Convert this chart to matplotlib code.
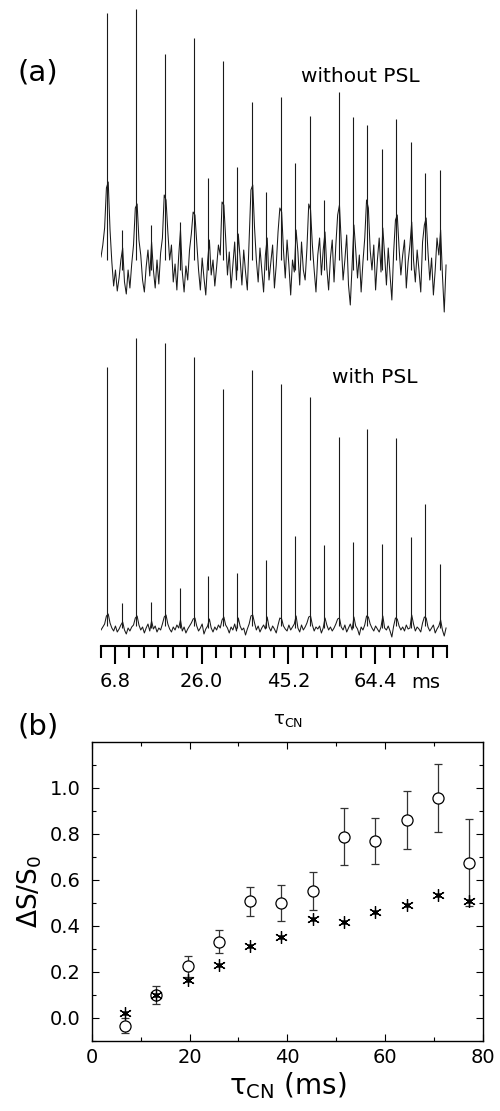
import numpy as np
import matplotlib
matplotlib.use("Agg")
import matplotlib.pyplot as plt
from matplotlib.ticker import FixedLocator

plt.rcParams['font.family'] = ['DejaVu Sans']

# ---------------- panel (a) data ----------------
# tick axis of the spectra (ms)
scale_major = [6.8, 26.0, 45.2, 64.4]
scale_labels = ["6.8", "26.0", "45.2", "64.4"]
scale_minor = [3.6, 10.0, 13.2, 16.4, 19.6, 22.8, 29.2, 32.4, 35.6, 38.8, 42.0,
               48.4, 51.6, 54.8, 58.0, 61.2, 67.6, 70.8, 74.0, 77.2, 80.4]

# echo peak positions (ms) in the trace
main_peaks = [5.1, 11.5, 17.9, 24.3, 30.7, 37.1, 43.5, 49.9, 56.3, 62.7, 69.1, 75.5]
mid_peaks = [8.3, 14.7, 21.1, 27.5, 33.9, 40.3, 46.7, 53.1, 59.5, 65.9, 72.3, 78.7]

# heights (arbitrary units) - without PSL
top_main = [287, 291, 246, 262, 239, 198, 203, 184, 208, 175, 181, 127]
top_mid = [70, 75, 78, 122, 133, 108, 137, 100, 183, 151, 158, 130]
# heights - with PSL
bot_main = [273, 302, 297, 283, 251, 270, 256, 243, 203, 211, 202, 136]
bot_mid = [37, 38, 52, 64, 67, 80, 104, 95, 98, 96, 103, 76]

# baseline / noise of traces, sampled every 0.4 ms from 3.7 ms
top_noise = [
    43, 55, 72, 112,
    118, 70, 38, 14, 30, 9, 22, 40, 52, 18, 6, 30, 12, 36, 55, 92,
    96, 60, 45, 20, 8, 33, 50, 24, 58, 30, 12, 40, 16, 47, 62, 105,
    100, 68, 40, 55, 18, 36, 10, 44, 70, 28, 8, 34, 20, 50, 66, 88,
    85, 58, 30, 10, 42, 22, 5, 38, 60, 25, 40, 14, 33, 55, 45, 98,
    95, 62, 25, 48, 12, 35, 58, 20, 66, 42, 15, 50, 28, 10, 60, 110,
    115, 72, 40, 18, 52, 30, 8, 45, 62, 20, 38, 55, 12, 35, 68, 92,
    88, 50, 22, 60, 35, 5, 40, 28, 70, 48, 15, 58, 30, 20, 52, 96,
    90, 55, 30, 8, 45, 62, 25, 50, 68, 32, 10, 42, 60, 18, 55, 85,
    95, 58, 20, 40, 65, 15, -5, 35, 75, 50, 22, 45, 8, 38, 62, 100,
    92, 50, 30, 55, 10, 40, 62, 28, 72, 45, 15, 52, 25, 0, 48, 80,
    85, 52, 25, 45, 60, 12, 38, 55, 78, 40, 18, 50, 30, 8, 58, 75,
    82, 48, 20, 42, 5, 30, 62, 45, 70, 25, -12, 35,
]
bot_noise = [
    10, 13, 16, 24,
    26, 17, 12, 9, 14, 8, 11, 15, 18, 10, 6, 12, 9, 13, 15, 22,
    24, 15, 10, 13, 7, 12, 16, 9, 19, 11, 14, 8, 12, 10, 16, 23,
    25, 16, 11, 8, 13, 10, 15, 12, 20, 9, 13, 7, 11, 14, 17, 21,
    22, 14, 9, 12, 16, 6, 11, 14, 21, 12, 8, 13, 10, 15, 12, 20,
    23, 15, 12, 7, 13, 10, 16, 9, 22, 14, 10, 12, 5, 11, 16, 24,
    25, 17, 10, 14, 8, 12, 15, 11, 23, 13, 9, 14, 11, 7, 15, 22,
    21, 14, 11, 9, 15, 10, 13, 16, 24, 12, 8, 15, 10, 13, 17, 23,
    24, 15, 9, 13, 11, 14, 7, 12, 22, 15, 10, 13, 9, 12, 16, 21,
    22, 13, 10, 15, 8, 12, 16, 10, 23, 14, 11, 5, 13, 10, 15, 24,
    23, 16, 12, 9, 14, 11, 8, 13, 24, 12, 10, 14, 9, 3, 14, 22,
    21, 14, 10, 13, 9, 15, 11, 12, 25, 16, 9, 13, 11, 8, 17, 23,
    22, 13, 9, 12, 15, 7, 11, 14, 20, 10, 4, 12,
]
noise_start, noise_step = 3.7, 0.4
top_offset, bot_offset = 346, 6

# ---------------- panel (b) data ----------------
tau = [6.8, 13.2, 19.6, 26.0, 32.4, 38.8, 45.2, 51.6, 58.0, 64.4, 70.8, 77.2]
circ = [-0.033, 0.099, 0.224, 0.332, 0.507, 0.499, 0.553, 0.787, 0.768, 0.859, 0.954, 0.675]
circ_err = [0.033, 0.040, 0.045, 0.050, 0.062, 0.078, 0.083, 0.124, 0.100, 0.125, 0.148, 0.19]
star = [0.022, 0.099, 0.163, 0.229, 0.312, 0.353, 0.428, 0.417, 0.462, 0.489, 0.534, 0.507]

W, H = 500, 1111
fig = plt.figure(figsize=(W / 100, H / 100), dpi=100)

# ---------------- panel (a) ----------------
axa = fig.add_axes([100.55 / W, 1 - 646 / H, (447.4 - 100.55) / W, 641 / H])
axa.set_xlim(3.6, 80.4)
axa.set_ylim(0, 641)
xs = noise_start + noise_step * np.arange(len(top_noise))
tc = '#1a1a1a'
axa.plot(xs, np.array(top_noise) + top_offset, color=tc, lw=0.75)
axa.plot(xs, np.array(bot_noise) + bot_offset, color=tc, lw=0.75)
axa.vlines(main_peaks, top_offset + 40, np.array(top_main) + top_offset, color=tc, lw=0.8)
axa.vlines(mid_peaks, top_offset + 30, np.array(top_mid) + top_offset, color=tc, lw=0.8)
axa.vlines(main_peaks, bot_offset + 14, np.array(bot_main) + bot_offset, color=tc, lw=0.8)
axa.vlines(mid_peaks, bot_offset + 12, np.array(bot_mid) + bot_offset, color=tc, lw=0.8)

for s in ['left', 'right', 'top']:
    axa.spines[s].set_visible(False)
axa.spines['bottom'].set_linewidth(1.5)
axa.set_yticks([])
axa.xaxis.set_major_locator(FixedLocator(scale_major))
axa.set_xticklabels(scale_labels)
axa.xaxis.set_minor_locator(FixedLocator(scale_minor))
axa.tick_params(axis='x', which='major', direction='out', length=13, width=1.5,
                labelsize=14, pad=6)
axa.tick_params(axis='x', which='minor', direction='out', length=8.5, width=1.5)

fig.text(426 / W, 1 - 682 / H, 'ms', fontsize=14, ha='center', va='center')
fig.text(288 / W, 1 - 720 / H, r'$\mathregular{\tau_{CN}}$', fontsize=13,
         ha='center', va='center')
fig.text(38 / W, 1 - 73 / H, '(a)', fontsize=21, ha='center', va='center')
fig.text(360 / W, 1 - 77 / H, 'without PSL', fontsize=14.5, ha='center', va='center')
fig.text(375 / W, 1 - 377 / H, 'with PSL', fontsize=14.5, ha='center', va='center')

# ---------------- panel (b) ----------------
axb = fig.add_axes([91.7 / W, 1 - 1041 / H, (483 - 91.7) / W, (1041 - 741.7) / H])
axb.errorbar(tau, circ, yerr=circ_err, fmt='o', ms=8, mfc='white', mec='black',
             mew=0.9, ecolor='#333333', elinewidth=0.9, capsize=3, capthick=0.9,
             zorder=2)
axb.plot(tau, star, linestyle='none', marker=(6, 2, 0), ms=9, mew=0.9,
         color='black', zorder=3)
axb.plot(tau, star, linestyle='none', marker='o', ms=2.5, color='black', zorder=3)
axb.set_xlim(0, 80)
axb.set_ylim(-0.1, 1.2)
axb.set_xticks([0, 20, 40, 60, 80])
axb.xaxis.set_minor_locator(FixedLocator([10, 30, 50, 70]))
axb.set_yticks([0.0, 0.2, 0.4, 0.6, 0.8, 1.0])
axb.set_yticklabels(['0.0', '0.2', '0.4', '0.6', '0.8', '1.0'])
axb.yaxis.set_minor_locator(FixedLocator([-0.1, 0.1, 0.3, 0.5, 0.7, 0.9, 1.1]))
axb.tick_params(which='both', direction='in', top=True, right=True, width=0.8)
axb.tick_params(which='major', length=5, labelsize=14)
axb.tick_params(which='minor', length=3)
axb.tick_params(axis='y', which='major', pad=8)
axb.tick_params(axis='x', which='major', pad=5)
for s in axb.spines.values():
    s.set_linewidth(1.0)
axb.set_xlabel(r'$\mathregular{\tau_{CN}}$ (ms)', fontsize=20, labelpad=2)
axb.set_ylabel(r'$\mathregular{\Delta S/S_0}$', fontsize=19, labelpad=4)
fig.text(38 / W, 1 - 727 / H, '(b)', fontsize=21, ha='center', va='center')

fig.savefig('out.png', dpi=100)
